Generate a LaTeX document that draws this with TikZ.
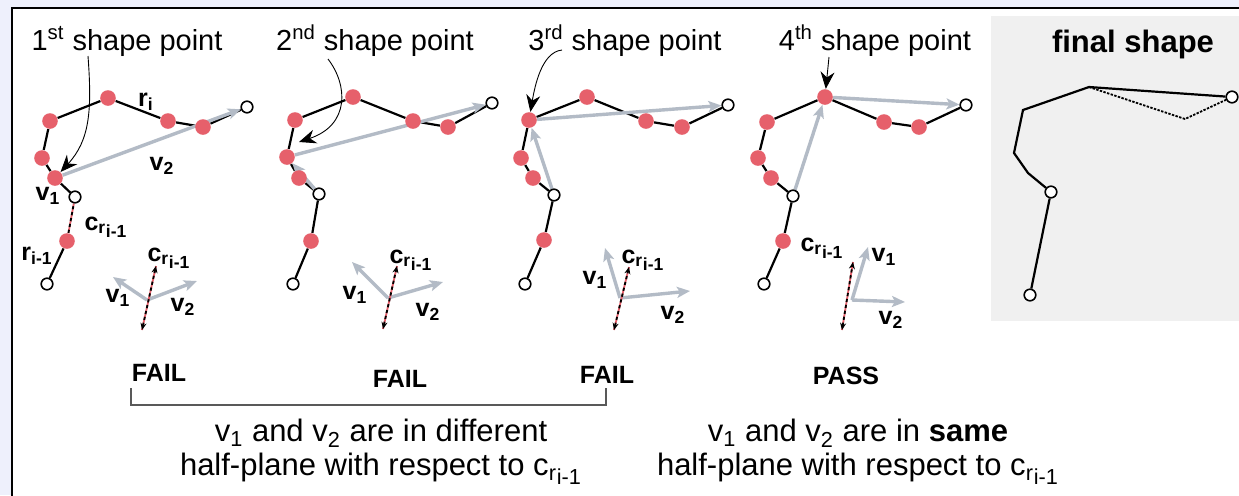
\documentclass[tikz,border=0pt]{standalone}
\usepackage{fontspec}
\setmainfont{Liberation Sans}
\usepackage{tikz}
\usetikzlibrary{arrows.meta, positioning, calc}
\definecolor{dotred}{HTML}{E6606B}
\definecolor{vecgray}{HTML}{B3BBC6}
\definecolor{panelgray}{HTML}{F0F0F0}
\definecolor{pagelav}{HTML}{EEF0FC}
\pgfdeclarelayer{bg}
\pgfdeclarelayer{edges}
\pgfsetlayers{bg,edges,main}
\newcommand{\cri}{c\textsubscript{r\kern.04em\raisebox{-.4ex}{i-1}}}

\tikzset{
  rdot/.style={circle, fill=dotred, inner sep=0pt, minimum size=7.8pt},
  odot/.style={circle, draw=black, line width=0.8pt, fill=white, inner sep=0pt, minimum size=5.8pt},
  chain/.style={line width=1.1pt},
  vec/.style={draw=vecgray, line width=1.7pt, -{Stealth[length=6.5pt,width=5.5pt,inset=1.5pt]}},
  pointer/.style={line width=0.45pt, -{Stealth[length=8.5pt,width=7pt]}},
  crline/.style={line width=0.9pt, dash pattern=on 1.6pt off 1.4pt},
  crtips/.style={{Stealth[length=3.5pt,width=3pt]}-{Stealth[length=3.5pt,width=3pt]}},
  headlabel/.style={font=\fontsize{14.5}{17}\selectfont, anchor=base},
  vlabel/.style={font=\fontsize{12.5}{14}\selectfont\bfseries, inner sep=0pt},
  verdict/.style={font=\fontsize{12.5}{15}\selectfont\bfseries, anchor=base},
  remark/.style={font=\fontsize{15.5}{17}\selectfont, align=center},
}

\begin{document}
\begin{tikzpicture}[x=0.5pt, y=-0.5pt]
  \useasboundingbox (0,0) rectangle (1239,495);
  % fondo, marco y panel final
  \begin{pgfonlayer}{bg}
    \begin{scope}
      \clip (0,0) rectangle (1239,495);
      \fill[pagelav] (0,0) rectangle (1239,495);
      \filldraw[fill=white, draw=black, line width=1pt] (12,8) rectangle (1260,520);
      \fill[panelgray] (991,16) rectangle (1260,321);
    \end{scope}
  \end{pgfonlayer}

  % titulos
  \node[headlabel] (h1) at (127,50) {1\textsuperscript{st} shape point};
  \node[headlabel] (h2) at (375,50) {2\textsuperscript{nd} shape point};
  \node[headlabel] (h3) at (625,50) {3\textsuperscript{rd} shape point};
  \node[headlabel] (h4) at (875,50) {4\textsuperscript{th} shape point};
  \node[font=\fontsize{15.5}{18}\selectfont\bfseries, anchor=base] (hf) at (1133,52) {final shape};

  % panel 1
  \node[odot] (A1) at (47,284) {};
  \node[rdot] (A2) at (67,241) {};
  \node[odot] (A3) at (75,197) {};
  \node[rdot] (A4) at (55,178) {};
  \node[rdot] (A5) at (42,158) {};
  \node[rdot] (A6) at (50,121) {};
  \node[rdot] (A7) at (108,98) {};
  \node[rdot] (A8) at (168,121) {};
  \node[rdot] (A9) at (203,127) {};
  \node[odot] (A10) at (247,107) {};
  % panel 2
  \node[odot] (B1) at (293,284) {};
  \node[rdot] (B2) at (311,241) {};
  \node[odot] (B3) at (319,194) {};
  \node[rdot] (B4) at (299,178) {};
  \node[rdot] (B5) at (287,157) {};
  \node[rdot] (B6) at (295,120) {};
  \node[rdot] (B7) at (353,97) {};
  \node[rdot] (B8) at (413,121) {};
  \node[rdot] (B9) at (448,127) {};
  \node[odot] (B10) at (492,103) {};
  % panel 3
  \node[odot] (C1) at (525,284) {};
  \node[rdot] (C2) at (544,240) {};
  \node[odot] (C3) at (554,195) {};
  \node[rdot] (C4) at (533,178) {};
  \node[rdot] (C5) at (521,158) {};
  \node[rdot] (C6) at (529,120) {};
  \node[rdot] (C7) at (587,97) {};
  \node[rdot] (C8) at (646,121) {};
  \node[rdot] (C9) at (682,127) {};
  \node[odot] (C10) at (728,105) {};
  % panel 4
  \node[odot] (D1) at (764,284) {};
  \node[rdot] (D2) at (783,241) {};
  \node[odot] (D3) at (793,196) {};
  \node[rdot] (D4) at (771,178) {};
  \node[rdot] (D5) at (758,158) {};
  \node[rdot] (D6) at (767,122) {};
  \node[rdot] (D7) at (825,97) {};
  \node[rdot] (D8) at (884,122) {};
  \node[rdot] (D9) at (919,127) {};
  \node[odot] (D10) at (966,105) {};
  % forma final
  \node[odot] (F1) at (1030,295) {};
  \node[odot] (F2) at (1051,192) {};
  \coordinate (F4) at (1028,173);
  \coordinate (F5) at (1014,153);
  \coordinate (F6) at (1023,110);
  \coordinate (F7) at (1089,87);
  \coordinate (F8) at (1185,119);
  \node[odot] (F10) at (1232,97) {};

  \begin{pgfonlayer}{edges}
    \foreach \p in {A,B,C,D}
      \draw[chain] (\p3) -- (\p4) -- (\p5) -- (\p6) -- (\p7) -- (\p8) -- (\p9) -- (\p10);
    \foreach \p in {B,C,D}
      \draw[chain] (\p1) -- (\p2) -- (\p3);
    \draw[chain] (A1) -- (A2);
    \draw[dotred, line width=0.9pt] (A2) -- (A3);
    \draw[crline] (A2) -- (A3);
    \draw[chain] (F1) -- (F2) -- (F4) -- (F5) -- (F6) -- (F7) -- (F10);
    \draw[line width=0.9pt, dash pattern=on 1.2pt off 0.7pt] (F7) -- (F8) -- (F10);
    % vectores
    \draw[vec] (A4) -- (A10);
    \draw[vec] (B3) -- (B5);
    \draw[vec] (B5) -- (B10);
    \draw[vec] (C3) -- (C6);
    \draw[vec] (C6) -- (C10);
    \draw[vec] (D3) -- (D7);
    \draw[vec] (D7) -- (D10);
  \end{pgfonlayer}

  % flechas de los titulos
  \coordinate (q1) at (88,56);
  \coordinate (q2) at (328,59);
  \coordinate (t2) at (299,142);
  \coordinate (q3) at (562,50);
  \coordinate (q4) at (829,57);
  \draw[pointer] (q1) .. controls (92,110) and (90,140) .. (A4);
  \draw[pointer] (q2) .. controls (348,85) and (350,125) .. (t2);
  \draw[pointer] (q3) .. controls (542,52) and (535,85) .. (C6);
  \draw[pointer] (q4) -- (D7);

  % rotulos del panel 1
  \node[vlabel] (ri) at (146,102) {r\textsubscript{i}};
  \node[vlabel] (v2a) at (162,166) {v\textsubscript{2}};
  \node[vlabel] (v1a) at (48,196) {v\textsubscript{1}};
  \node[vlabel] (cra) at (106,227) {\cri};
  \node[vlabel] (rim) at (37,256) {r\textsubscript{i-1}};

  % diagramas de vectores
  \foreach \k/\ox/\oy/\ax/\ay/\bx/\by/\cx/\cy/\dx/\dy in
      {1/147/300/113/277/197/281/142/330/156/266,
       2/388/298/352/262/443/282/383/329/397/266,
       3/620/298/605/248/690/291/614/330/629/267,
       4/852/300/868/247/905/302/842/330/853/262}{
    \coordinate (o\k) at (\ox,\oy);
    \coordinate (w1\k) at (\ax,\ay);
    \coordinate (w2\k) at (\bx,\by);
    \coordinate (ca\k) at (\cx,\cy);
    \coordinate (cb\k) at (\dx,\dy);
    \draw[vec] (o\k) -- (w1\k);
    \draw[vec] (o\k) -- (w2\k);
    \draw[dotred, line width=0.9pt] (ca\k) -- (cb\k);
    \draw[crline, crtips] (ca\k) -- (cb\k);
  }
  \node[vlabel] (s1c) at (169,258) {\cri};
  \node[vlabel] (s1a) at (118,298) {v\textsubscript{1}};
  \node[vlabel] (s1b) at (183,307) {v\textsubscript{2}};
  \node[vlabel] (s2c) at (411,260) {\cri};
  \node[vlabel] (s2a) at (355,295) {v\textsubscript{1}};
  \node[vlabel] (s2b) at (428,312) {v\textsubscript{2}};
  \node[vlabel] (s3c) at (643,260) {\cri};
  \node[vlabel] (s3a) at (595,280) {v\textsubscript{1}};
  \node[vlabel] (s3b) at (673,315) {v\textsubscript{2}};
  \node[vlabel] (s4c) at (822,248) {\cri};
  \node[vlabel] (s4a) at (884,257) {v\textsubscript{1}};
  \node[vlabel] (s4b) at (891,320) {v\textsubscript{2}};

  % veredictos
  \node[verdict] (fail1) at (159,381) {FAIL};
  \node[verdict] (fail2) at (400,387) {FAIL};
  \node[verdict] (fail3) at (607,383) {FAIL};
  \node[verdict] (pass4) at (846,384) {PASS};
  \coordinate (k1) at (131,388);
  \coordinate (k2) at (606,388);
  \draw[black!65, line width=0.8pt] (k1) -- ++(0,17) -| (k2);

  % explicacion
  \node[remark] (diff) at (381,452) {v\textsubscript{1} and v\textsubscript{2} are in different\\half-plane with respect to \cri};
  \node[remark] (same) at (858,452) {v\textsubscript{1} and v\textsubscript{2} are in \textbf{same}\\half-plane with respect to \cri};
\end{tikzpicture}
\end{document}
